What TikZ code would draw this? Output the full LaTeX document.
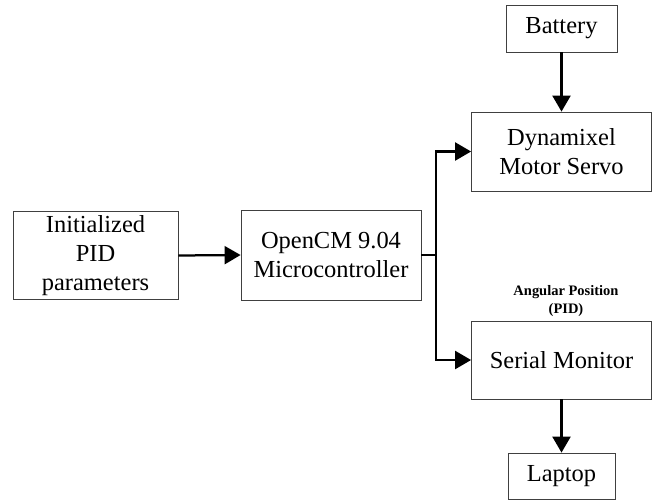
\documentclass[tikz,border=0pt]{standalone}
\usepackage{fontspec}
\setmainfont{Liberation Serif}
\usetikzlibrary{arrows.meta}

\begin{document}
\begin{tikzpicture}[x=0.025cm, y=-0.025cm,
    block/.style = {draw=black!75, line width=0.6pt, align=center, inner sep=0pt,
                    font=\fontsize{17.4}{20.6}\selectfont},
    link/.style = {line width=1.6pt, -{Triangle[length=0.4cm, width=0.45cm]}}]

    \useasboundingbox (0,0) rectangle (657,502);

    \node[block, minimum width=165*0.025cm, minimum height=88*0.025cm] (init) at (95.5,255.5) {Initialized\\PID\\parameters};
    \node[block, minimum width=180*0.025cm, minimum height=90*0.025cm] (mcu) at (331,255) {OpenCM 9.04\\Microcontroller};
    \node[block, minimum width=180*0.025cm, minimum height=79*0.025cm] (dyn) at (561.5,151.5) {Dynamixel\\Motor Servo};
    \node[block, minimum width=180*0.025cm, minimum height=78*0.025cm] (serial) at (561.5,360) {Serial Monitor};
    \node[block, minimum width=111*0.025cm, minimum height=47*0.025cm] (battery) at (561.5,28.5) {Battery};
    \node[block, minimum width=107*0.025cm, minimum height=46*0.025cm] (laptop) at (561.5,476) {Laptop};

    \node[font=\fontsize{10.3}{13.5}\selectfont\bfseries, align=center] (angle) at (566,301) {Angular Position\\(PID)};

    \coordinate (split) at (436,255);

    \draw[link] (init.east) -- (mcu.west);
    \draw[line width=1.6pt] (mcu.east) -- (split);
    \draw[link] (split) |- (dyn.west);
    \draw[link] (split) |- (serial.west);
    \draw[link] (battery.south) -- (dyn.north);
    \draw[link] (serial.south) -- (laptop.north);

\end{tikzpicture}
\end{document}
